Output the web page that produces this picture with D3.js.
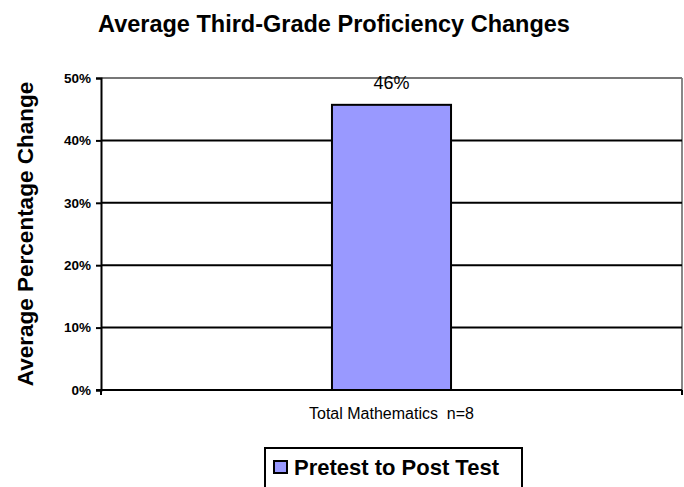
<meta charset="utf-8">
<style>
body { margin: 0; background: white; font-family: Arial, "Liberation Sans", Helvetica, sans-serif; }
.tick text { font-weight: bold; font-size: 13.5px; }
</style>
<body>
<script src="https://cdnjs.cloudflare.com/ajax/libs/d3/7.8.5/d3.min.js"></script>
<script>

var categories = ["Total Mathematics  n=8"];
var values = [0.457];
var valueLabels = ["46%"];
var seriesName = "Pretest to Post Test";
var yTicks = [0, 0.1, 0.2, 0.3, 0.4, 0.5];

var width = 684, height = 487;
var margin = {top: 78, right: 2, bottom: 97, left: 101};

var svg = d3.select("body").append("svg")
    .attr("width", width)
    .attr("height", height);

var x = d3.scaleBand()
    .domain(categories)
    .range([margin.left, width - margin.right])
    .paddingInner(0.6)
    .paddingOuter(0.776);

var y = d3.scaleLinear()
    .domain([0, 0.5])
    .range([height - margin.bottom, margin.top]);

// title
svg.append("text")
    .attr("x", 334)
    .attr("y", 32)
    .attr("text-anchor", "middle")
    .style("font-weight", "bold")
    .style("font-size", "23.5px")
    .text("Average Third-Grade Proficiency Changes");

// right border of plot area
svg.append("line")
    .attr("x1", width - margin.right).attr("x2", width - margin.right)
    .attr("y1", y(0.5)).attr("y2", y(0))
    .attr("stroke", "#888").attr("stroke-width", 2);

// gridlines
svg.selectAll(".grid")
    .data(yTicks.filter(function(d) { return d > 0; }))
  .enter().append("line")
    .attr("class", "grid")
    .attr("x1", margin.left)
    .attr("x2", width - margin.right)
    .attr("y1", function(d) { return y(d); })
    .attr("y2", function(d) { return y(d); })
    .attr("stroke", function(d) { return d == 0.5 ? "#777" : "#000"; })
    .attr("stroke-width", 2);

// bar
svg.selectAll(".bar")
    .data(values)
  .enter().append("rect")
    .attr("class", "bar")
    .attr("x", function(d, i) { return x(categories[i]); })
    .attr("width", x.bandwidth())
    .attr("y", function(d) { return y(d); })
    .attr("height", function(d) { return y(0) - y(d); })
    .attr("fill", "#9999ff")
    .attr("stroke", "#000")
    .attr("stroke-width", 2);

// value labels
svg.selectAll(".vlabel")
    .data(values)
  .enter().append("text")
    .attr("class", "vlabel")
    .attr("x", function(d, i) { return x(categories[i]) + x.bandwidth() / 2; })
    .attr("y", 89)
    .attr("text-anchor", "middle")
    .style("font-size", "18px")
    .text(function(d, i) { return valueLabels[i]; });

// y axis
var yAxis = svg.append("g")
    .attr("transform", "translate(" + margin.left + ",0)")
    .call(d3.axisLeft(y).tickValues(yTicks).tickFormat(d3.format(".0%")).tickSize(5).tickPadding(5));
yAxis.select(".domain").attr("stroke", "#000").attr("stroke-width", 2);
yAxis.selectAll(".tick line").attr("stroke", "#000").attr("stroke-width", 2);

// x axis
var xAxisG = svg.append("g")
    .attr("transform", "translate(0," + y(0) + ")");
xAxisG.append("line")
    .attr("x1", margin.left - 5).attr("x2", width - margin.right)
    .attr("stroke", "#000").attr("stroke-width", 2);
xAxisG.selectAll(".xt")
    .data([margin.left, width - margin.right])
  .enter().append("line")
    .attr("x1", function(d) { return d; }).attr("x2", function(d) { return d; })
    .attr("y1", 0).attr("y2", 5)
    .attr("stroke", "#000").attr("stroke-width", 2);
xAxisG.selectAll(".xlabel")
    .data(categories)
  .enter().append("text")
    .attr("x", function(d) { return x(d) + x.bandwidth() / 2; })
    .attr("y", 29)
    .attr("text-anchor", "middle")
    .style("font-size", "16px")
    .style("white-space", "pre")
    .text(function(d) { return d; });

// y axis title
svg.append("text")
    .attr("transform", "translate(33," + (y(0.25)) + ") rotate(-90)")
    .attr("text-anchor", "middle")
    .style("font-weight", "bold")
    .style("font-size", "22.5px")
    .text("Average Percentage Change");

// legend
var legend = svg.append("g");
legend.append("rect")
    .attr("x", 265).attr("y", 448)
    .attr("width", 257).attr("height", 60)
    .attr("fill", "white")
    .attr("stroke", "#000").attr("stroke-width", 2);
legend.append("rect")
    .attr("x", 274).attr("y", 461)
    .attr("width", 13).attr("height", 12)
    .attr("fill", "#9999ff")
    .attr("stroke", "#000").attr("stroke-width", 2);
legend.append("text")
    .attr("x", 294).attr("y", 475)
    .style("font-weight", "bold")
    .style("font-size", "22px")
    .text(seriesName);

</script>
</body>
